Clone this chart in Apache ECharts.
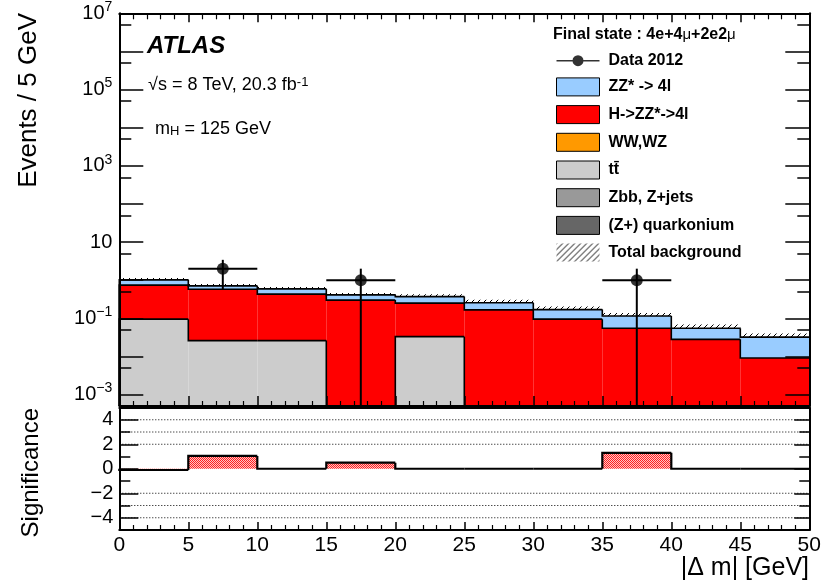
<!DOCTYPE html>
<html><head><meta charset="utf-8">
<script src="https://cdn.jsdelivr.net/npm/echarts@6/dist/echarts.min.js"></script>
<style>html,body{margin:0;padding:0;background:#fff}#c{width:830px;height:585px}</style>
</head><body><div id="c"></div>
<script>
// ---------------- data ----------------
const binEdges = [0, 5, 10, 15, 20, 25, 30, 35, 40, 45, 50];
const ttbar   = [0.095, 0.026, 0.026, 0, 0.033, 0, 0, 0, 0, 0];
const zbbZjets = [0, 0, 0, 0, 0, 0, 0, 0, 0, 0];
const quarkonium = [0, 0, 0, 0, 0, 0, 0, 0, 0, 0];
const wwwz    = [0, 0, 0, 0, 0, 0, 0, 0, 0, 0];
const higgs   = [0.645, 0.549, 0.404, 0.30, 0.217, 0.166, 0.095, 0.055, 0.028, 0.0091];
const zzStar  = [0.28, 0.135, 0.16, 0.11, 0.12, 0.09, 0.074, 0.06, 0.027, 0.023];
const bkgUncUp = [0.12, 0.12, 0.12, 0.12, 0.15, 0.2, 0.2, 0.2, 0.25, 0.25];
const dataCounts = [0, 2, 0, 1, 0, 0, 0, 1, 0, 0];
const significance = [-0.1, 1.05, 0, 0.5, 0, 0, 0, 1.3, 0, 0];

const yMajorTicks = [1e-3, 1e-2, 1e-1, 1, 10, 1e2, 1e3, 1e4, 1e5, 1e6, 1e7];
const yLabelTicks = [1e-3, 1e-1, 10, 1e3, 1e5, 1e7];
const yMinorTicks = [5e-3, 5e-2, 5e-1, 5, 50, 5e2, 5e3, 5e4, 5e5, 5e6];
const sigLabelTicks = [-4, -2, 0, 2, 4];
const sigGuides = [-4, -3, -2, 2, 3, 4];
const Y_MIN = 5e-4, Y_MAX = 1e7;

// ---------------- helpers ----------------
const FONT = '"Liberation Sans", Arial, Helvetica, sans-serif';
function cum(arrs) { return arrs[0].map((_, i) => arrs.reduce((s, a) => s + a[i], 0)); }
const lay0 = cum([ttbar]);
const lay1 = cum([ttbar, zbbZjets]);
const lay2 = cum([ttbar, zbbZjets, quarkonium]);
const lay3 = cum([ttbar, zbbZjets, quarkonium, wwwz]);
const lay4 = cum([ttbar, zbbZjets, quarkonium, wwwz, higgs]);
const total = cum([ttbar, zbbZjets, quarkonium, wwwz, higgs, zzStar]);
const zeros = ttbar.map(() => 0);

function makeHatch() {
  const c = document.createElement('canvas'); c.width = 6; c.height = 6;
  const g = c.getContext('2d');
  g.strokeStyle = '#000'; g.lineWidth = 1;
  g.beginPath(); g.moveTo(-1, 7); g.lineTo(7, -1); g.stroke();
  return c;
}
function makeDots() {
  const c = document.createElement('canvas'); c.width = 2; c.height = 2;
  const g = c.getContext('2d');
  g.fillStyle = '#ffc4c4'; g.fillRect(0, 0, 2, 2);
  g.fillStyle = '#ff2020'; g.fillRect(0, 0, 1, 1); g.fillRect(1, 1, 1, 1);
  return c;
}
const hatchPattern = { image: makeHatch(), repeat: 'repeat' };
const dotPattern = { image: makeDots(), repeat: 'repeat' };

const cl = v => Math.max(v, Y_MIN);
const binData = binEdges.slice(0, -1).map((e, i) => [(e + binEdges[i + 1]) / 2, 1, i]);

function fillLayer(name, color, lo, hi) {
  return {
    type: 'custom', name, xAxisIndex: 0, yAxisIndex: 0, z: 2,
    itemStyle: { color },
    data: binData, encode: { x: 0, y: 1 },
    renderItem(params, api) {
      const i = api.value(2);
      if (!(hi[i] > lo[i])) return { type: 'group', children: [] };
      const a = api.coord([binEdges[i], cl(lo[i])]);
      const b = api.coord([binEdges[i + 1], cl(hi[i])]);
      return { type: 'rect', shape: { x: a[0], y: b[1], width: b[0] - a[0], height: a[1] - b[1] },
               style: { fill: color } };
    }
  };
}
const outlineSeries = {
  type: 'custom', name: 'outline', xAxisIndex: 0, yAxisIndex: 0, z: 4,
  data: binData, encode: { x: 0, y: 1 },
  renderItem(params, api) {
    const i = api.value(2);
    const children = [];
    [lay0, lay4, total].forEach(arr => {
      const prev = i > 0 ? cl(arr[i - 1]) : Y_MIN;
      const p0 = api.coord([binEdges[i], prev]);
      const p1 = api.coord([binEdges[i], cl(arr[i])]);
      const p2 = api.coord([binEdges[i + 1], cl(arr[i])]);
      children.push({ type: 'polyline', shape: { points: [p0, p1, p2] },
        style: { fill: null, stroke: '#000', lineWidth: 1.6 } });
    });
    return { type: 'group', children };
  }
};
const bandSeries = {
  type: 'custom', name: 'Total background', xAxisIndex: 0, yAxisIndex: 0, z: 5,
  itemStyle: { color: hatchPattern },
  data: binData, encode: { x: 0, y: 1 },
  renderItem(params, api) {
    const i = api.value(2);
    const a = api.coord([binEdges[i], total[i]]);
    const b = api.coord([binEdges[i + 1], total[i] * (1 + bkgUncUp[i])]);
    return { type: 'rect', shape: { x: a[0], y: b[1], width: b[0] - a[0], height: a[1] - b[1] },
             style: { fill: hatchPattern } };
  }
};
const dataPts = [];
dataCounts.forEach((n, i) => { if (n > 0) dataPts.push([(binEdges[i] + binEdges[i + 1]) / 2, n, Math.sqrt(n), i]); });
const dataSeries = {
  type: 'scatter', name: 'Data 2012', xAxisIndex: 0, yAxisIndex: 0, z: 7,
  symbol: 'circle', symbolSize: 12, itemStyle: { color: '#000' },
  data: dataPts.map(d => [d[0], d[1]])
};
const errSeries = {
  type: 'custom', name: 'dataErr', xAxisIndex: 0, yAxisIndex: 0, z: 6,
  data: dataPts, encode: { x: 0, y: 1 },
  renderItem(params, api) {
    const x = api.value(0), y = api.value(1), e = api.value(2), i = api.value(3);
    const l = api.coord([binEdges[i], y]), r = api.coord([binEdges[i + 1], y]);
    const up = api.coord([x, y + e]), dn = api.coord([x, cl(y - e)]);
    const st = { stroke: '#000', lineWidth: 2 };
    return { type: 'group', children: [
      { type: 'line', shape: { x1: l[0], y1: l[1], x2: r[0], y2: r[1] }, style: st },
      { type: 'line', shape: { x1: up[0], y1: up[1], x2: dn[0], y2: dn[1] }, style: st }
    ] };
  }
};
const sigSeries = {
  type: 'custom', name: 'sig', xAxisIndex: 2, yAxisIndex: 4, z: 4,
  data: binData.map(d => [d[0], 0, d[2]]), encode: { x: 0, y: 1 },
  renderItem(params, api) {
    const i = api.value(2);
    const v = significance[i];
    const z0 = api.coord([binEdges[i], 0]);
    const p = api.coord([binEdges[i + 1], v]);
    const prev = api.coord([binEdges[i], i > 0 ? significance[i - 1] : 0]);
    const children = [];
    if (v !== 0) children.push({ type: 'rect',
      shape: { x: z0[0], y: Math.min(z0[1], p[1]), width: p[0] - z0[0], height: Math.abs(p[1] - z0[1]) },
      style: { fill: dotPattern } });
    children.push({ type: 'polyline', shape: { points: [[z0[0], prev[1]], [z0[0], p[1]], [p[0], p[1]]] },
      style: { fill: null, stroke: '#000', lineWidth: 2.2 } });
    return { type: 'group', children };
  }
};
const guideSeries = {
  type: 'custom', name: 'guides', xAxisIndex: 2, yAxisIndex: 4, z: 1,
  data: sigGuides.map(v => [0, v]), encode: { x: 0, y: 1 },
  renderItem(params, api) {
    const v = api.value(1);
    const a = api.coord([binEdges[0], v]), b = api.coord([binEdges[binEdges.length - 1], v]);
    return { type: 'line', shape: { x1: a[0], y1: a[1], x2: b[0], y2: b[1] },
      style: { stroke: '#000', lineWidth: 1, lineDash: [1, 2] } };
  }
};

// ---------------- axes ----------------
function xAx(grid, pos, major, minor, labels) {
  return { gridIndex: grid, type: 'value', min: 0, max: 50, interval: 5, position: pos, z: 10,
    axisLine: { show: true, onZero: false, lineStyle: { color: '#000', width: 2 } },
    axisTick: { show: major > 0, inside: true, length: major, lineStyle: { color: '#000', width: 1.5 } },
    minorTick: { show: minor > 0, splitNumber: 5, length: minor, lineStyle: { color: '#000', width: 1.2 } },
    splitLine: { show: false },
    axisLabel: labels ? { show: true, color: '#000', fontSize: 21, fontFamily: FONT, margin: 5 } : { show: false } };
}
const supRich = {
  b: { fontSize: 20, lineHeight: 26, fontFamily: FONT, color: '#000' },
  s: { fontSize: 14, lineHeight: 12, verticalAlign: 'top', fontFamily: FONT, color: '#000' }
};
function logFmt(v) {
  const e = Math.round(Math.log10(v));
  if (e === 1) return '{b|10}';
  return '{b|10}{s|' + (e < 0 ? '\u2212' + (-e) : e) + '}';
}
function logAx(pos, ticks, len, withLine, withLabels) {
  return { gridIndex: 0, type: 'log', logBase: 10, min: Y_MIN, max: Y_MAX, position: pos, z: 10,
    axisLine: { show: withLine, lineStyle: { color: '#000', width: 2 } },
    axisTick: { show: true, inside: true, length: len, customValues: ticks, lineStyle: { color: '#000', width: 1.5 } },
    minorTick: { show: false }, splitLine: { show: false },
    axisLabel: withLabels ? { show: true, customValues: yLabelTicks, formatter: logFmt, rich: supRich, margin: 7 } : { show: false } };
}
function sigAx(pos, custom, len, withLine, withLabels) {
  const ax = { gridIndex: 1, type: 'value', min: -5, max: 5, interval: 1, position: pos, z: 10,
    axisLine: { show: withLine, onZero: false, lineStyle: { color: '#000', width: 2 } },
    axisTick: { show: true, inside: true, length: len, lineStyle: { color: '#000', width: 1.5 } },
    splitLine: { show: false },
    axisLabel: withLabels ? { show: true, customValues: sigLabelTicks, color: '#000', fontSize: 20, fontFamily: FONT, margin: 6,
      formatter: v => (v < 0 ? '\u2212' + (-v) : '' + v) } : { show: false } };
  if (custom) ax.axisTick.customValues = custom;
  return ax;
}

const option = {
  animation: false,
  backgroundColor: '#fff',
  textStyle: { fontFamily: FONT },
  grid: [
    { left: 119.3, right: 20.7, top: 13.3, height: 392.7, containLabel: false, outerBoundsMode: 'none' },
    { left: 119.3, right: 20.7, top: 407.5, height: 122.5, containLabel: false, outerBoundsMode: 'none' }
  ],
  xAxis: [
    xAx(0, 'bottom', 10, 5, false),
    xAx(0, 'top', 9, 6, false),
    xAx(1, 'bottom', 8, 5, true),
    xAx(1, 'top', 0, 0, false)
  ],
  yAxis: [
    logAx('left', yMajorTicks, 24, true, true),
    logAx('left', yMinorTicks, 12, false, false),
    logAx('right', yMajorTicks, 24, true, false),
    logAx('right', yMinorTicks, 12, false, false),
    sigAx('left', null, 11, true, true),
    sigAx('left', sigLabelTicks, 19, false, false),
    sigAx('right', null, 10, true, false),
    sigAx('right', sigLabelTicks, 15, false, false)
  ],
  legend: {
    orient: 'vertical', left: 556, top: 52.7, padding: 0,
    itemWidth: 43, itemHeight: 18, itemGap: 8.7, selectedMode: false,
    textStyle: { fontSize: 16, fontWeight: 'bold', color: '#000', fontFamily: FONT, padding: [0, 0, 0, 4] },
    data: [
      { name: 'Data 2012', icon: 'path://M0,8.2 L43,8.2 L43,9.8 L0,9.8 Z M16,9 A5.5,5.5 0 1 1 27,9 A5.5,5.5 0 1 1 16,9 Z' },
      { name: 'ZZ* -> 4l', icon: 'rect', itemStyle: { borderColor: '#000', borderWidth: 1 } },
      { name: 'H->ZZ*->4l', icon: 'rect', itemStyle: { borderColor: '#000', borderWidth: 1 } },
      { name: 'WW,WZ', icon: 'rect', itemStyle: { borderColor: '#000', borderWidth: 1 } },
      { name: 'tt\u0304', icon: 'rect', itemStyle: { borderColor: '#000', borderWidth: 1 } },
      { name: 'Zbb, Z+jets', icon: 'rect', itemStyle: { borderColor: '#000', borderWidth: 1 } },
      { name: '(Z+) quarkonium', icon: 'rect', itemStyle: { borderColor: '#000', borderWidth: 1 } },
      { name: 'Total background', icon: 'rect' }
    ]
  },
  series: [
    fillLayer('tt\u0304', '#cccccc', zeros, lay0),
    fillLayer('Zbb, Z+jets', '#999999', lay0, lay1),
    fillLayer('(Z+) quarkonium', '#666666', lay1, lay2),
    fillLayer('WW,WZ', '#ff9900', lay2, lay3),
    fillLayer('H->ZZ*->4l', '#ff0000', lay3, lay4),
    fillLayer('ZZ* -> 4l', '#99ccff', lay4, total),
    outlineSeries,
    bandSeries,
    errSeries,
    dataSeries,
    guideSeries,
    sigSeries
  ],
  graphic: [
    { type: 'text', x: 147, y: 46, z: 20, style: { text: 'ATLAS', font: 'italic bold 24px ' + FONT, fill: '#000', align: 'left', verticalAlign: 'middle' } },
    { type: 'text', x: 148, y: 85, z: 20, style: { text: '{n|\u221As = 8 TeV, 20.3 fb}{s|-1}', align: 'left', verticalAlign: 'middle',
        rich: { n: { fontSize: 18, lineHeight: 18, fontFamily: FONT, fill: '#000' }, s: { fontSize: 13, lineHeight: 10, verticalAlign: 'top', fontFamily: FONT, fill: '#000' } } } },
    { type: 'text', x: 155, y: 129, z: 20, style: { text: '{n|m}{s|H}{n| = 125 GeV}', align: 'left', verticalAlign: 'middle',
        rich: { n: { fontSize: 18, lineHeight: 18, fontFamily: FONT, fill: '#000' }, s: { fontSize: 13, lineHeight: 10, verticalAlign: 'bottom', fontFamily: FONT, fill: '#000' } } } },
    { type: 'text', x: 553, y: 35, z: 20, style: { text: '{t|Final state : 4e+4}{m|\u03BC}{t|+2e2}{m|\u03BC}', align: 'left', verticalAlign: 'middle',
        rich: { t: { fontSize: 16, fontWeight: 'bold', fontFamily: FONT, fill: '#000' }, m: { fontSize: 15, fontFamily: FONT, fill: '#000' } } } },
    { type: 'text', x: 29, y: 13, rotation: Math.PI / 2, z: 20, style: { text: 'Events / 5 GeV', font: '26px ' + FONT, fill: '#000', align: 'right', verticalAlign: 'middle' } },
    { type: 'text', x: 31, y: 408, rotation: Math.PI / 2, z: 20, style: { text: 'Significance', font: '24px ' + FONT, fill: '#000', align: 'right', verticalAlign: 'middle' } },
    { type: 'text', x: 809, y: 568, z: 20, style: { text: '|\u0394 m| [GeV]', font: '25px ' + FONT, fill: '#000', align: 'right', verticalAlign: 'middle' } }
  ]
};
const chart = echarts.init(document.getElementById('c'), null, { renderer: 'canvas' });
chart.setOption(option);
</script>
</body></html>
